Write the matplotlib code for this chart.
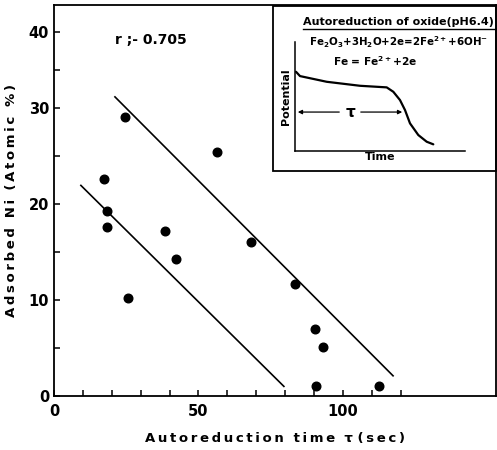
import numpy as np
import matplotlib
matplotlib.use("Agg")
import matplotlib.pyplot as plt
from matplotlib.patches import Rectangle

plt.rcParams['font.family'] = ['DejaVu Sans']
plt.rcParams['font.weight'] = 'bold'
plt.rcParams['axes.labelweight'] = 'bold'
plt.rcParams['mathtext.default'] = 'bf'

# autoreduction time (sec) vs adsorbed Ni (atomic %)
tau = [24.6, 56.3, 17.4, 18.2, 18.2, 38.5, 42.2, 25.7, 68.3, 83.4, 90.5, 93.1, 90.7, 112.6]
ni = [29.0, 25.4, 22.6, 19.2, 17.6, 17.2, 14.2, 10.2, 16.0, 11.6, 7.0, 5.1, 1.0, 1.0]

# bounding lines
upper_x = [21.1, 117.4]
upper_y = [31.4, 2.1]
lower_x = [9.3, 79.6]
lower_y = [21.9, 1.0]

# schematic potential-time curve for the inset
curve_t = [1, 5, 31.7, 65, 91.7, 98.3, 105, 110, 115, 123.3, 131.7, 138.3]
curve_e = [79.3, 75, 69.3, 65.3, 63.7, 59.3, 51, 41, 27.7, 16, 9.3, 6.7]
tau_end = 110
tau_level = 39


def spaced(s):
    return "\u2009".join(s)


fig = plt.figure(figsize=(4.97, 4.5), dpi=100)
ax = fig.add_axes([0.1087, 0.12, 0.889, 0.869])

# the printed y axis is squeezed above 30
yk = [-10, 0, 30, 60]
yv = [-10, 0, 30, 30 + 30 * 0.79]
ax.set_yscale('function', functions=(lambda v: np.interp(v, yk, yv),
                                     lambda v: np.interp(v, yv, yk)))

ax.plot(tau, ni, 'o', color='black', markersize=6.2)
ax.plot(upper_x, upper_y, color='black', lw=1.2)
ax.plot(lower_x, lower_y, color='black', lw=1.2)

ax.set_xlim(0, 153)
ax.set_ylim(0, 43.5)
ax.set_xticks([0, 50, 100])
ax.set_xticks(np.arange(0, 121, 10), minor=True)
ax.set_yticks([0, 10, 20, 30, 40])
ax.set_yticks([5, 15, 25, 35], minor=True)
ax.tick_params(which='both', direction='in', width=1.1, labelsize=10.5)
ax.tick_params(which='major', length=4)
ax.tick_params(which='minor', length=4)
ax.tick_params(axis='x', pad=6)
for sp in ax.spines.values():
    sp.set_linewidth(1.3)

ax.set_xlabel(spaced("Autoreduction time") + "  τ " + spaced("(sec)"),
              fontsize=9.5, labelpad=9)
ax.set_ylabel(spaced("Adsorbed Ni") + "  " + spaced("(Atomic %)"),
              fontsize=9.5, labelpad=8)
ax.text(0.139, 0.9, "r ;- 0.705", transform=ax.transAxes, fontsize=10)

# inset box
box = fig.add_axes([0.547, 0.618, 0.453, 0.371])
box.set_xlim(0, 1)
box.set_ylim(0, 1)
box.axis('off')
box.add_patch(Rectangle((0.003, 0.005), 0.994, 0.99, transform=box.transAxes,
                        fill=False, lw=1.3, color='black', clip_on=False))
box.text(0.138, 0.9, "Autoreduction of oxide(pH6.4)", fontsize=8,
         va='center', ha='left', clip_on=False)
box.plot([0.138, 1.0], [0.855, 0.855], color='black', lw=1.0)
box.text(0.165, 0.775, r"Fe$_2$O$_3$+3H$_2$O+2e=2Fe$^{2+}$+6OH$^{-}$", fontsize=7.4,
         va='center', ha='left')
box.text(0.27, 0.665, r"Fe = Fe$^{2+}$+2e", fontsize=7.6, va='center', ha='left')

sub = fig.add_axes([0.5936, 0.6644, 0.342, 0.242])
sub.plot(curve_t, curve_e, color='black', lw=1.6, solid_capstyle='round')
sub.set_xlim(0, 170)
sub.set_ylim(0, 109)
sub.set_xticks([])
sub.set_yticks([])
sub.spines['top'].set_visible(False)
sub.spines['right'].set_visible(False)
sub.spines['left'].set_linewidth(1.1)
sub.spines['bottom'].set_linewidth(1.1)
sub.patch.set_alpha(0)
sub.set_xlabel("Time", fontsize=8, labelpad=1)
sub.set_ylabel("Potential", fontsize=8, labelpad=3)
mid = tau_end / 2
sub.text(mid, tau_level, "τ", fontsize=11, ha='center', va='center')
arrow = dict(arrowstyle='-|>', color='black', lw=0.9, mutation_scale=6)
sub.annotate("", xy=(0, tau_level), xytext=(mid - 8, tau_level), arrowprops=arrow)
sub.annotate("", xy=(tau_end, tau_level), xytext=(mid + 8, tau_level), arrowprops=arrow)

fig.savefig("out.png", dpi=100)
